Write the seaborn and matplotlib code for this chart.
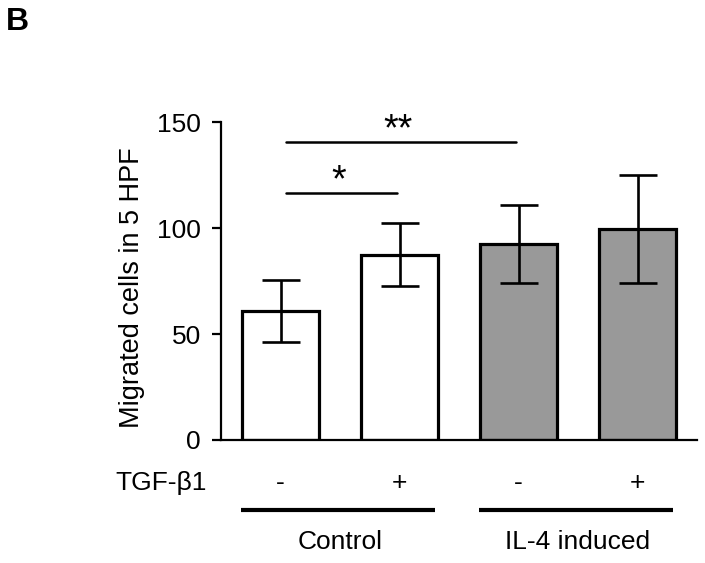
import matplotlib
matplotlib.use("Agg")
import matplotlib.pyplot as plt
import matplotlib.transforms as mtransforms
import seaborn as sns
import pandas as pd

# values
conditions = ["Control -", "Control +", "IL-4 -", "IL-4 +"]
means = [60.9, 87.5, 92.5, 99.8]
sds = [14.5, 15.0, 18.5, 25.5]
bar_colors = ["white", "white", "#999999", "#999999"]
tgf_labels = ["-", "+", "-", "+"]
groups = ["Control", "IL-4 induced"]
# significance brackets: (from bar, to bar, height, label)
brackets = [(0, 1, 116.5, "*"), (0, 2, 140.5, "**")]

sns.set_style("ticks")
plt.rcParams["font.family"] = ["Liberation Sans", "DejaVu Sans"]
plt.rcParams["text.color"] = "black"
plt.rcParams["axes.labelcolor"] = "black"
plt.rcParams["ytick.color"] = "black"
plt.rcParams["xtick.color"] = "black"

df = pd.DataFrame({"cond": conditions, "mean": means, "sd": sds})

fig = plt.figure(figsize=(7.05, 5.63), dpi=100)
ax = fig.add_axes([0.3135, 0.2185, 0.6752, 0.5643])

sns.barplot(data=df, x="cond", y="mean", hue="cond", palette=bar_colors,
            edgecolor="black", linewidth=2.3, width=0.64, legend=False,
            errorbar=None, saturation=1, ax=ax)
ax.errorbar(range(len(means)), df["mean"], yerr=df["sd"], fmt="none",
            ecolor="black", elinewidth=1.9, capsize=14, capthick=1.9)

ax.set_xlim(-0.5, 3.5)
ax.set_ylim(0, 150)
ax.set_yticks([0, 50, 100, 150])
ax.set_xticks([])
ax.set_xlabel("")
ax.set_ylabel("")
ax.tick_params(axis="y", labelsize=19, width=1.6, length=6.5, pad=8,
               direction="out", color="black", labelcolor="black")
for s in ["top", "right"]:
    ax.spines[s].set_visible(False)
for s in ["left", "bottom"]:
    ax.spines[s].set_linewidth(1.6)
    ax.spines[s].set_color("black")

fig.text(132 / 705, 1 - 288 / 563, "Migrated cells in 5 HPF", rotation=90,
         ha="center", va="center", fontsize=19.5, color="black")

# significance lines
for a, b, h, lab in brackets:
    ax.plot([a + 0.05, b - 0.02], [h, h], color="black", lw=1.8, clip_on=False)
    ax.text((a + b) / 2 - 0.01, h + 1, lab, ha="center", va="baseline",
            fontsize=27, clip_on=False, color="black")

# TGF row and grouping lines below the axis
trans = mtransforms.blended_transform_factory(ax.transData, ax.transAxes)
ax.text(-0.030, -0.135, "TGF-β1", transform=ax.transAxes, ha="right",
        va="center", fontsize=19, color="black")
for i, lab in enumerate(tgf_labels):
    ax.text(i, -0.135, lab, transform=trans, ha="center", va="center",
            fontsize=19, color="black")
for g, name in enumerate(groups):
    left = 2 * g - 0.33
    right = 2 * g + 1.3
    ax.plot([left, right], [-0.2203, -0.2203], transform=trans, color="black",
            lw=3, clip_on=False, solid_capstyle="butt")
    ax.text(2 * g + 0.5, -0.321, name, transform=trans, ha="center",
            va="center", fontsize=19, color="black")

fig.text(17.5 / 705, 1 - 21.5 / 563, "B", ha="center", va="center",
         fontsize=23, fontweight="bold", color="black")

fig.savefig("out.png", dpi=100)
